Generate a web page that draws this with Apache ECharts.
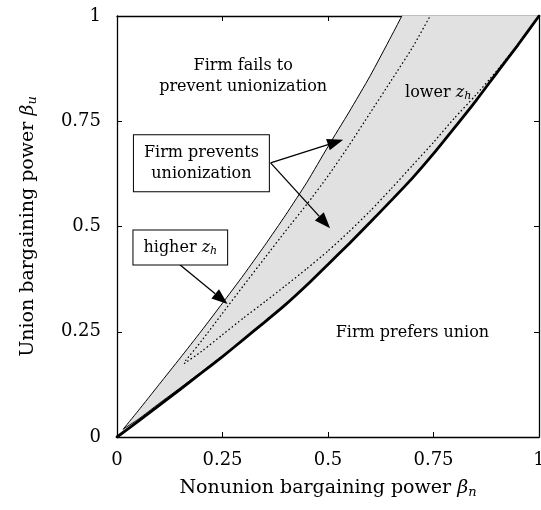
<!DOCTYPE html>
<html>
<head>
<meta charset="utf-8">
<script src="https://cdn.jsdelivr.net/npm/echarts@6/dist/echarts.min.js"></script>
<style>html,body{margin:0;padding:0;background:#fff}#c{width:541px;height:510px}</style>
</head>
<body>
<div id="c"></div>
<script>
// ---- data (beta_n, beta_u) ----
var upperBoundary = [[0.015,0.019],[0.05,0.062],[0.1,0.125],[0.15,0.188],[0.2,0.252],[0.25,0.318],[0.3,0.385],[0.35,0.455],[0.4,0.528],[0.45,0.605],[0.5,0.69],[0.55,0.772],[0.6,0.858],[0.65,0.952],[0.675,1.0]];
var lowerBoundary = [[0,0],[0.05,0.037],[0.1,0.075],[0.15,0.113],[0.2,0.152],[0.25,0.191],[0.3,0.232],[0.35,0.273],[0.4,0.315],[0.45,0.361],[0.5,0.41],[0.55,0.459],[0.6,0.51],[0.65,0.562],[0.7,0.615],[0.75,0.673],[0.8,0.735],[0.85,0.798],[0.9,0.865],[0.95,0.931],[1,1]];
var lowerThin = [[0.015,0.019],[0.05,0.042],[0.1,0.08],[0.15,0.117],[0.2,0.155],[0.25,0.193]];
var higherZhCurve = [[0.163,0.182],[0.2,0.228],[0.25,0.294],[0.3,0.36],[0.35,0.425],[0.4,0.49],[0.45,0.553],[0.5,0.62],[0.55,0.693],[0.6,0.77],[0.65,0.847],[0.7,0.925],[0.742,1.0]];
var lowerZhCurve = [[0.16,0.175],[0.2,0.203],[0.25,0.243],[0.3,0.283],[0.35,0.321],[0.4,0.36],[0.45,0.4],[0.5,0.442],[0.55,0.488],[0.6,0.537],[0.65,0.59],[0.7,0.645],[0.75,0.7],[0.8,0.758],[0.85,0.812],[0.9,0.87],[0.95,0.933],[1,1]];
var regionTopRight = [[1,1]];
var tickValues = [0,0.25,0.5,0.75,1];

// annotations (data coordinates)
var plainLabels = [
  [0.299,0.857,'Firm fails to\nprevent unionization'],
  [0.700,0.247,'Firm prefers union'],
  [0.761,0.818,'{n|lower }{i|z}{s|h}']
];
var boxLabels = [
  [0.200,0.650,'Firm prevents\nunionization'],
  [0.150,0.450,'{n|higher }{i|z}{s|h}']
];
var arrows = [
  [0.364,0.651,0.536,0.706],
  [0.364,0.651,0.505,0.496],
  [0.149,0.409,0.262,0.316]
];

var FONT = 'DejaVu Serif';
var rich = {
  n:{fontFamily:FONT,fontSize:16,color:'#000',lineHeight:20},
  i:{fontFamily:FONT,fontStyle:'italic',fontSize:16,color:'#000',lineHeight:20},
  s:{fontFamily:FONT,fontStyle:'italic',fontSize:11,color:'#000',lineHeight:20,padding:[8,0,0,0]},
  b:{fontFamily:FONT,fontStyle:'italic',fontSize:19,color:'#000'},
  t:{fontFamily:FONT,fontStyle:'italic',fontSize:13,color:'#000',padding:[9,0,0,0]}
};

var chart = echarts.init(document.getElementById('c'), null, {renderer:'canvas'});

function polyRender(params, api){
  var pts = [];
  upperBoundary.forEach(function(p){pts.push(api.coord(p));});
  regionTopRight.forEach(function(p){pts.push(api.coord(p));});
  for (var k=lowerBoundary.length-1;k>=0;k--) pts.push(api.coord(lowerBoundary[k]));
  return {type:'polygon', shape:{points:pts, smooth:0}, style:{fill:'#e1e1e1', stroke:null}};
}

function arrowRender(params, api){
  var a = api.coord([api.value(0), api.value(1)]);
  var b = api.coord([api.value(2), api.value(3)]);
  var dx=b[0]-a[0], dy=b[1]-a[1], L=Math.sqrt(dx*dx+dy*dy);
  var ux=dx/L, uy=dy/L, hl=16, hw=6;
  var bx=b[0]-ux*hl, by=b[1]-uy*hl;
  return {type:'group', children:[
    {type:'line', shape:{x1:a[0],y1:a[1],x2:bx,y2:by}, style:{stroke:'#000',lineWidth:1.3}},
    {type:'polygon', shape:{points:[[b[0],b[1]],[bx-uy*hw,by+ux*hw],[bx+uy*hw,by-ux*hw]]}, style:{fill:'#000'}}
  ]};
}

function textRender(boxed){
  return function(params, api){
    var c = api.coord([api.value(0), api.value(1)]);
    var item = (boxed?boxLabels:plainLabels)[params.dataIndex];
    var st = {text:item[2], x:c[0], y:c[1], align:'center', verticalAlign:'middle',
      fontFamily:FONT, fontSize:16, fill:'#000', lineHeight:21, rich:rich};
    if (boxed){ st.backgroundColor='#fff'; st.borderColor='#000'; st.borderWidth=1; st.padding=[7,10,7,10]; }
    return {type:'text', style:st, z2:10};
  };
}

function lineSeries(data, width, type, z){
  return {type:'line', data:data, showSymbol:false, symbol:'none', smooth:0.2, z:z,
    lineStyle:{color:'#000', width:width, type:type, cap:'round'}, silent:true, animation:false, clip:true};
}

var axisCommon = {type:'value', min:0, max:1, interval:0.25,
  axisLine:{show:true, onZero:false, lineStyle:{color:'#000', width:1.3}},
  axisTick:{show:true, inside:true, length:5, lineStyle:{color:'#000', width:1}},
  splitLine:{show:false}};

chart.setOption({
  animation:false,
  backgroundColor:'#fff',
  grid:{left:117, right:2, top:16, bottom:73, outerBoundsMode:'none', containLabel:false},
  xAxis:[
    Object.assign({}, axisCommon, {position:'bottom',
      axisLabel:{margin:14, fontFamily:FONT, fontSize:18, color:'#000', hideOverlap:false},
      name:'Nonunion bargaining power {b|β}{t|n}', nameLocation:'middle', nameGap:40,
      nameTextStyle:{fontFamily:FONT, fontSize:19, color:'#000', rich:rich}}),
    Object.assign({}, axisCommon, {position:'top', axisLabel:{show:false}})
  ],
  yAxis:[
    Object.assign({}, axisCommon, {position:'left',
      axisLabel:{margin:16, fontFamily:FONT, fontSize:18, color:'#000'},
      name:'Union bargaining power {b|β}{t|u}', nameLocation:'middle', nameGap:78,
      nameTextStyle:{fontFamily:FONT, fontSize:19, color:'#000', rich:rich}}),
    Object.assign({}, axisCommon, {position:'right', axisLabel:{show:false}})
  ],
  series:[
    {type:'custom', renderItem:polyRender, data:[[0,0]], z:1, silent:true, clip:true},
    lineSeries(upperBoundary, 1, 'solid', 3),
    lineSeries(lowerThin, 0.9, 'solid', 3),
    lineSeries(higherZhCurve, 1.3, [0.5,3.5], 3),
    lineSeries(lowerZhCurve, 1.3, [0.5,3.5], 3),
    lineSeries(lowerBoundary, 2.8, 'solid', 4),
    {type:'custom', renderItem:arrowRender, data:arrows, z:6, silent:true, clip:false},
    {type:'custom', renderItem:textRender(false), data:plainLabels.map(function(d){return [d[0],d[1]];}), z:7, silent:true},
    {type:'custom', renderItem:textRender(true), data:boxLabels.map(function(d){return [d[0],d[1]];}), z:7, silent:true}
  ]
});
</script>
</body>
</html>
